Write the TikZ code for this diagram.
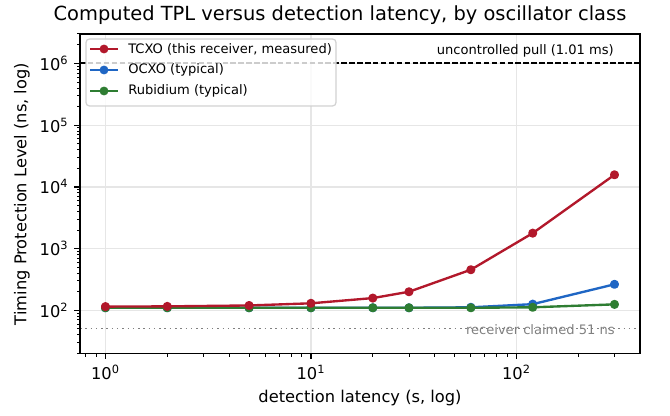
\documentclass[tikz,border=0pt]{standalone}
\usepackage{fontspec}
\setmainfont{DejaVu Sans}
\usepackage{tikz}

\definecolor{tcxored}{HTML}{B2182B}
\definecolor{ocxoblue}{HTML}{1F66C4}
\definecolor{rbgreen}{HTML}{2E7D32}
\definecolor{gridgray}{HTML}{E6E6E6}

\tikzset{
  declare function={ex(\t)=80+(\t+0.1238)*205.5; ey(\t)=62.5+(\t-1.30103)*61.73;
                    lx(\t)=ex(log10(\t)); ly(\t)=ey(log10(\t));},
  series/.style={line width=1.7pt, line join=round},
  tick/.style={line width=0.9pt},
  minortick/.style={line width=0.7pt},
  ticklabel/.style={inner sep=0pt, font=\fontsize{11.7}{14}\selectfont},
  smalltext/.style={inner sep=0pt, font=\fontsize{9.4}{11}\selectfont},
}

\begin{document}
\begin{tikzpicture}[x=0.72pt, y=0.72pt]
    \useasboundingbox (0,0) rectangle (670,416);

    % grid
    \foreach \d in {0,1,2}
        \draw[gridgray, line width=0.9pt] ({ex(\d)},62.5) -- ({ex(\d)},382);
    \foreach \d in {2,...,6}
        \draw[gridgray, line width=0.9pt] (80,{ey(\d)}) -- (640,{ey(\d)});

    % reference lines
    \draw[line width=1.3pt, dash pattern=on 4pt off 1.7pt] (80,{ey(6.00432)}) -- (640,{ey(6.00432)});
    \draw[gray, line width=1.1pt, dash pattern=on 1.1pt off 2.7pt] (80,{ey(1.70757)}) -- (640,{ey(1.70757)});
    \node[smalltext, anchor=base east] (pull) at (614,361.5) {uncontrolled pull (1.01 ms)};
    \node[smalltext, anchor=base east, text=gray] (claim) at (615,81) {receiver claimed 51 ns};

    % series
    \draw[series, ocxoblue] plot[mark=*, mark size=2.4pt] coordinates {
        ({lx(1)},{ly(110)}) ({lx(2)},{ly(110)}) ({lx(5)},{ly(110)}) ({lx(10)},{ly(110)})
        ({lx(20)},{ly(110)}) ({lx(30)},{ly(110)}) ({lx(60)},{ly(112)}) ({lx(120)},{ly(126)})
        ({lx(300)},{ly(264)})};
    \draw[series, rbgreen] plot[mark=*, mark size=2.4pt] coordinates {
        ({lx(1)},{ly(110)}) ({lx(2)},{ly(110)}) ({lx(5)},{ly(110)}) ({lx(10)},{ly(110)})
        ({lx(20)},{ly(110)}) ({lx(30)},{ly(110)}) ({lx(60)},{ly(110)}) ({lx(120)},{ly(112)})
        ({lx(300)},{ly(125)})};
    \draw[series, tcxored] plot[mark=*, mark size=2.4pt] coordinates {
        ({lx(1)},{ly(115)}) ({lx(2)},{ly(116)}) ({lx(5)},{ly(120)}) ({lx(10)},{ly(130)})
        ({lx(20)},{ly(158)}) ({lx(30)},{ly(200)}) ({lx(60)},{ly(455)}) ({lx(120)},{ly(1780)})
        ({lx(300)},{ly(15700)})};

    % x ticks
    \foreach \d in {0,1,2} {
        \draw[tick] ({ex(\d)},62.5) -- ({ex(\d)},56.8);
        \node[ticklabel, anchor=north] (xt\d) at ({ex(\d)},51) {10\textsuperscript{\d}};
    }
    \foreach \d in {0,1} \foreach \m in {2,...,9}
        \draw[minortick] ({ex(\d+log10(\m))},62.5) -- ({ex(\d+log10(\m))},59.2);
    \foreach \e in {-0.09691,-0.04576,2.30103,2.47712}
        \draw[minortick] ({ex(\e)},62.5) -- ({ex(\e)},59.2);

    % y ticks
    \foreach \d in {2,...,6} {
        \draw[tick] (80,{ey(\d)}) -- (74.3,{ey(\d)});
        \node[ticklabel, anchor=east] (yt\d) at (68.6,{ey(\d)}) {10\textsuperscript{\d}};
    }
    \foreach \d in {1,...,5} \foreach \m in {2,...,9}
        \draw[minortick] (80,{ey(\d+log10(\m))}) -- (76.7,{ey(\d+log10(\m))});
    \foreach \e in {6.30103,6.47712}
        \draw[minortick] (80,{ey(\e)}) -- (76.7,{ey(\e)});

    % frame
    \draw[line width=0.9pt] (80,62.5) rectangle (640,382);

    % legend
    \draw[gray!35, fill=white, fill opacity=0.8, line width=0.9pt, rounded corners=2.5pt] (86,310) rectangle (336,377);
    \foreach \yy/\cc/\tt in {367/tcxored/{TCXO (this receiver, measured)},
                             346/ocxoblue/{OCXO (typical)},
                             325/rbgreen/{Rubidium (typical)}} {
        \draw[series, \cc] (90,\yy) -- (118,\yy);
        \fill[\cc] (104,\yy) circle (3.2pt);
        \node[smalltext, anchor=west] (leg\cc) at (128,\yy) {\tt};
    }

    % labels
    \node[font=\fontsize{14}{17}\selectfont, anchor=base] (title) at (340,395)
        {Computed TPL versus detection latency, by oscillator class};
    \node[font=\fontsize{11.7}{14}\selectfont, anchor=base] (xlab) at (360,13) {detection latency (s, log)};
    \node[font=\fontsize{11.7}{14}\selectfont, rotate=90] (ylab) at (22,222) {Timing Protection Level (ns, log)};
\end{tikzpicture}
\end{document}
